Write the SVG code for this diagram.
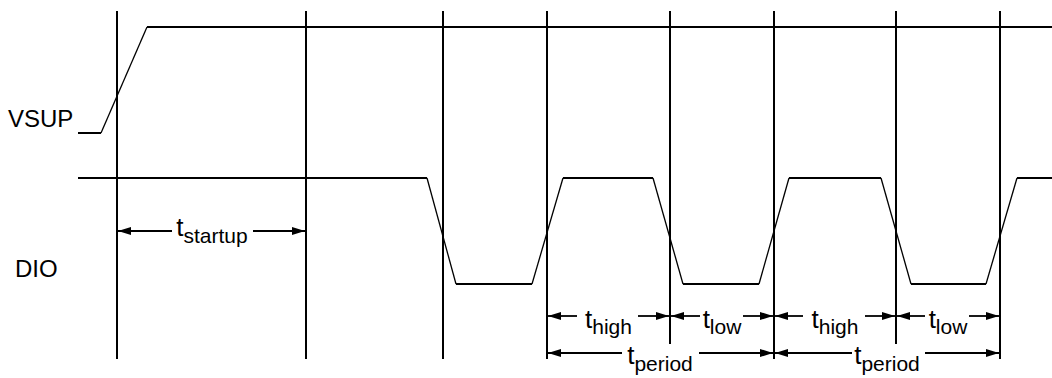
<svg xmlns="http://www.w3.org/2000/svg" width="1052" height="378" viewBox="0 0 1052 378">
<style>
.v{stroke:#000;stroke-width:2;fill:none}
.h{stroke:#000;stroke-width:2;fill:none}
.s{stroke:#000;stroke-width:1.3;fill:none}
.a{stroke:#000;stroke-width:1.8;fill:none;marker-end:url(#ah)}
text{font-family:"Liberation Sans",Arial,Helvetica,sans-serif;font-size:24px;fill:#000}
.m{text-anchor:middle;font-size:26px}
.sub{font-size:21px}
</style>
<defs>
<marker id="ah" viewBox="0 0 13 8" refX="13" refY="4" markerWidth="13" markerHeight="8" markerUnits="userSpaceOnUse" orient="auto">
<path d="M0,0 L13,4 L0,8 Z" fill="#000"/>
</marker>
</defs>
<rect width="1052" height="378" fill="#fff"/>
<g id="gridlines">
<line class="v" x1="117" y1="11" x2="117" y2="359"/>
<line class="v" x1="306" y1="11" x2="306" y2="359"/>
<line class="v" x1="443" y1="11" x2="443" y2="359"/>
<line class="v" x1="547" y1="11" x2="547" y2="359"/>
<line class="v" x1="670" y1="11" x2="670" y2="344"/>
<line class="v" x1="774" y1="11" x2="774" y2="359"/>
<line class="v" x1="896" y1="11" x2="896" y2="344"/>
<line class="v" x1="1000" y1="11" x2="1000" y2="359"/>
</g>
<g id="vsup">
<text x="8" y="127">VSUP</text>
<line class="h" x1="78" y1="133" x2="101" y2="133"/>
<line class="s" x1="101" y1="133" x2="147" y2="27"/>
<line class="h" x1="147" y1="27" x2="1052" y2="27"/>
</g>
<g id="dio">
<text x="15" y="277">DIO</text>
<line class="h" x1="78" y1="178" x2="427" y2="178"/>
<line class="s" x1="427" y1="178" x2="456" y2="284"/>
<line class="h" x1="456" y1="284" x2="532" y2="284"/>
<line class="s" x1="532" y1="284" x2="563" y2="178"/>
<line class="h" x1="563" y1="178" x2="653" y2="178"/>
<line class="s" x1="653" y1="178" x2="683" y2="284"/>
<line class="h" x1="683" y1="284" x2="759" y2="284"/>
<line class="s" x1="759" y1="284" x2="789" y2="178"/>
<line class="h" x1="789" y1="178" x2="881" y2="178"/>
<line class="s" x1="881" y1="178" x2="911" y2="284"/>
<line class="h" x1="911" y1="284" x2="986" y2="284"/>
<line class="s" x1="986" y1="284" x2="1017" y2="178"/>
<line class="h" x1="1017" y1="178" x2="1052" y2="178"/>
</g>
<g id="connectors">
<line class="a" x1="172" y1="231" x2="118" y2="231"/>
<line class="a" x1="253" y1="231" x2="305" y2="231"/>
<line class="a" x1="577" y1="316" x2="548" y2="316"/>
<line class="a" x1="638" y1="316" x2="669" y2="316"/>
<line class="a" x1="700" y1="316" x2="671" y2="316"/>
<line class="a" x1="743" y1="316" x2="773" y2="316"/>
<line class="a" x1="803" y1="316" x2="775" y2="316"/>
<line class="a" x1="865" y1="316" x2="895" y2="316"/>
<line class="a" x1="925" y1="316" x2="897" y2="316"/>
<line class="a" x1="969" y1="316" x2="999" y2="316"/>
<line class="a" x1="622" y1="353" x2="548" y2="353"/>
<line class="a" x1="699" y1="353" x2="773" y2="353"/>
<line class="a" x1="852" y1="353" x2="775" y2="353"/>
<line class="a" x1="925" y1="353" x2="999" y2="353"/>
</g>
<g id="labels">
<text class="m" x="212" y="236">t<tspan class="sub" dy="7">startup</tspan></text>
<text class="m" x="608.5" y="328">t<tspan class="sub" dy="6">high</tspan></text>
<text class="m" x="722" y="328">t<tspan class="sub" dy="6">low</tspan></text>
<text class="m" x="835" y="328">t<tspan class="sub" dy="6">high</tspan></text>
<text class="m" x="948" y="328">t<tspan class="sub" dy="6">low</tspan></text>
<text class="m" x="660" y="364">t<tspan class="sub" dy="7">period</tspan></text>
<text class="m" x="887" y="364">t<tspan class="sub" dy="7">period</tspan></text>
</g>
</svg>
